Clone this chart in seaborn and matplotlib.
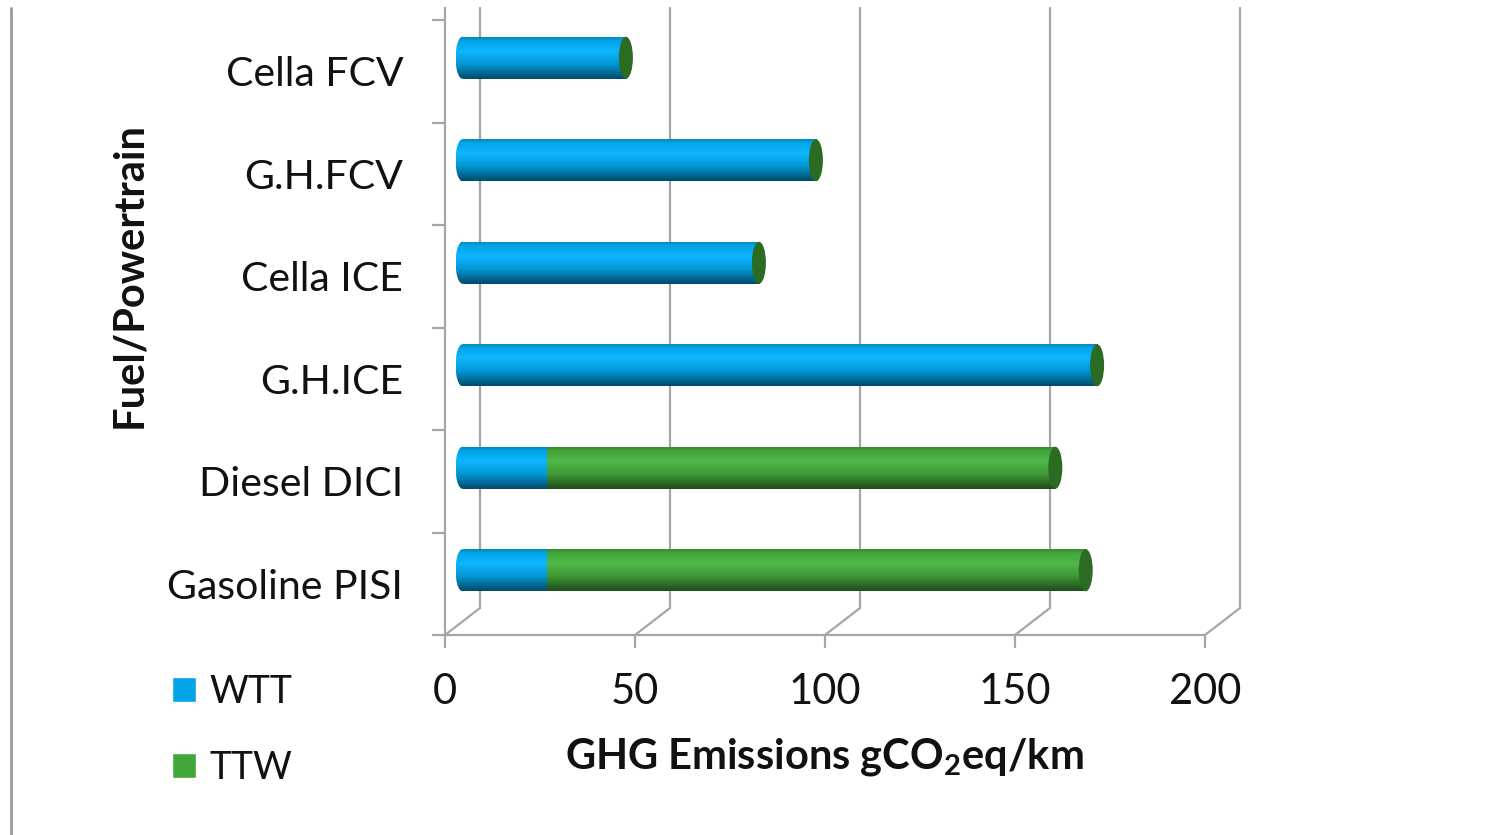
import numpy as np
import matplotlib
matplotlib.use("Agg")
import matplotlib.pyplot as plt
import matplotlib.transforms as mtransforms
from matplotlib.colors import LinearSegmentedColormap, to_rgb
from matplotlib.patches import Ellipse, Patch
from matplotlib.lines import Line2D
import seaborn as sns

# values (gCO2eq/km)
categories = ["Cella FCV", "G.H.FCV", "Cella ICE", "G.H.ICE", "Diesel DICI", "Gasoline PISI"]
wtt = [43, 93, 78, 167, 22, 22]
ttw = [0, 0, 0, 0, 134, 142]
series_names = ["WTT", "TTW"]
x_ticks = [0, 50, 100, 150, 200]

BLUE = "#03A4E8"
GREEN = "#43A63B"
CAP = "#2B6B22"
GRID = "#A6A6A6"
TEXT = "#111111"

W, H = 1503, 835
DPI = 100

sns.set_style("white")
plt.rcParams["font.family"] = ["Lato", "DejaVu Sans"]
plt.rcParams["mathtext.fontset"] = "custom"
plt.rcParams["mathtext.rm"] = "Lato"
plt.rcParams["mathtext.bf"] = "Lato:bold"

fig = plt.figure(figsize=(W / DPI, H / DPI), dpi=DPI)
# front plane of the pseudo-3D box, in pixels
ax_left, ax_right, ax_top, ax_bottom = 445, 1205, 8, 635
ax = fig.add_axes([ax_left / W, (H - ax_bottom) / H,
                   (ax_right - ax_left) / W, (ax_bottom - ax_top) / H])

total = [a + b for a, b in zip(wtt, ttw)]
sns.barplot(x=total, y=categories, color=GREEN, width=0.41, saturation=1,
            errorbar=None, ax=ax)
n_green = len(ax.patches)
sns.barplot(x=wtt, y=categories, color=BLUE, width=0.41, saturation=1,
            errorbar=None, ax=ax)

cat_px = 102.5
px_per_unit = (ax_right - ax_left) / 200
top_lim = -0.5 - (20 - ax_top) / cat_px
ax.set_xlim(0, 200)
ax.set_ylim(5.5, top_lim)

depth_x, depth_y = 35, 27
half = mtransforms.ScaledTranslation(depth_x / 2 / DPI, depth_y / 2 / DPI, fig.dpi_scale_trans)
back = mtransforms.ScaledTranslation(depth_x / DPI, depth_y / DPI, fig.dpi_scale_trans)
cyl = ax.transData + half


def shade_cmap(color):
    c = np.array(to_rgb(color))
    light = np.clip(c * 1.05 + 0.04, 0, 1)
    return LinearSegmentedColormap.from_list(
        "cyl", [(0, c * 0.8), (0.12, c), (0.35, light), (0.65, c * 0.92), (1, c * 0.45)])


grad = np.linspace(0, 1, 256).reshape(-1, 1)
ew = 14 / px_per_unit  # width of the end ellipse in data units

for i, bar in enumerate(ax.patches[:]):
    x0, y0 = bar.get_x(), bar.get_y()
    w, h = bar.get_width(), bar.get_height()
    is_green = i < n_green
    col = GREEN if is_green else BLUE
    bar.set_transform(cyl)
    bar.set_edgecolor("none")
    z = 2 if is_green else 3
    bar.set_zorder(z)
    cmap = shade_cmap(col)
    if w > 0:
        im = ax.imshow(grad, cmap=cmap, extent=[x0, x0 + w, y0 + h, y0], aspect="auto",
                       origin="upper", transform=cyl, zorder=z, interpolation="bilinear")
        im.set_clip_path(bar)
    if not is_green:
        # rounded left end of the cylinder
        e = Ellipse((x0, y0 + h / 2), ew, h, transform=cyl, facecolor="none",
                    edgecolor="none", zorder=z)
        ax.add_patch(e)
        im = ax.imshow(grad, cmap=cmap, extent=[x0 - ew / 2, x0 + ew / 2, y0 + h, y0],
                       aspect="auto", origin="upper", transform=cyl, zorder=z,
                       interpolation="bilinear")
        im.set_clip_path(e)
    else:
        cap = Ellipse((x0 + w, y0 + h / 2), ew, h, transform=cyl, facecolor=CAP,
                      edgecolor="none", zorder=4)
        ax.add_patch(cap)

ax.set_xlim(0, 200)
ax.set_ylim(5.5, top_lim)

# back wall gridlines and floor diagonals
wall_top = top_lim + depth_y / cat_px
for t in x_ticks:
    ax.plot([t, t], [5.5, wall_top], transform=ax.transData + back, color=GRID,
            lw=1.6, zorder=0.5, clip_on=False)
    ax.plot([t, t + depth_x / px_per_unit], [5.5, 5.5 - depth_y / cat_px],
            color=GRID, lw=1.6, zorder=0.5, clip_on=False)

for side in ["top", "right"]:
    ax.spines[side].set_visible(False)
for side in ["left", "bottom"]:
    ax.spines[side].set_color(GRID)
    ax.spines[side].set_linewidth(1.6)

ax.set_xticks(x_ticks)
ax.tick_params(axis="x", direction="out", length=9.5, width=1.6, color=GRID,
               labelsize=30, labelcolor=TEXT, pad=18, bottom=True)
ax.set_yticks(np.arange(-0.5, 6, 1), minor=True)
ax.tick_params(axis="y", which="minor", direction="out", length=9.5, width=1.6,
               color=GRID, left=True)
ax.tick_params(axis="y", which="major", length=0, labelsize=29.5, labelcolor=TEXT, pad=30)

ax.set_xlabel(r"GHG Emissions gCO$_\mathbf{2}$eq/km", fontsize=30, fontweight="bold",
              color=TEXT)
ax.xaxis.set_label_coords((824 - ax_left) / (ax_right - ax_left), (ax_bottom - 736) / (ax_bottom - ax_top))
ax.set_ylabel("Fuel/Powertrain", fontsize=30, fontweight="bold", color=TEXT)
ax.yaxis.set_label_coords((148 - ax_left) / (ax_right - ax_left), (ax_bottom - 275) / (ax_bottom - ax_top))

handles = [Patch(facecolor=BLUE, label=series_names[0]),
           Patch(facecolor=GREEN, label=series_names[1])]
fig.legend(handles=handles, loc="upper left", bbox_to_anchor=(138 / W, 1 - 640 / H),
           frameon=False, fontsize=27, handlelength=0.65, handleheight=0.65,
           handletextpad=0.35, labelspacing=1.07, labelcolor=TEXT)

fig.add_artist(Line2D([11 / W, 11 / W], [0, 1 - 8 / H], transform=fig.transFigure,
                      color="#9A9A9A", lw=2))

fig.savefig("out.png", dpi=DPI)
